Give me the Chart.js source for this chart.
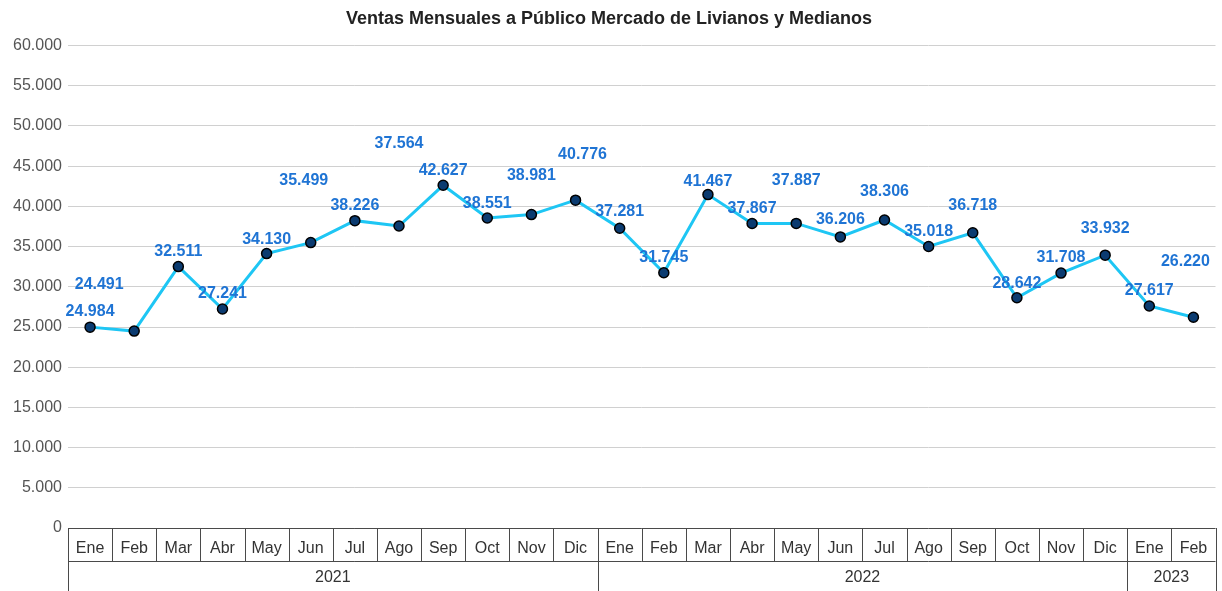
<!DOCTYPE html>
<html>
<head>
<meta charset="utf-8">
<script src="https://cdn.jsdelivr.net/npm/chart.js@4/dist/chart.umd.min.js"></script>
<style>
  html, body { margin: 0; padding: 0; background: #fff; }
  #wrap { width: 1222px; height: 591px; }
</style>
</head>
<body>
<div id="wrap"><canvas id="ventasChart"></canvas></div>
<script>
// Data
const meses = ['Ene','Feb','Mar','Abr','May','Jun','Jul','Ago','Sep','Oct','Nov','Dic',
               'Ene','Feb','Mar','Abr','May','Jun','Jul','Ago','Sep','Oct','Nov','Dic',
               'Ene','Feb'];
const anios = ['2021', '2022', '2023'];
const mesesPorAnio = [12, 12, 2];
const ventas = [24984, 24491, 32511, 27241, 34130, 35499, 38226, 37564, 42627, 38551, 38981, 40776,
                37281, 31745, 41467, 37867, 37887, 36206, 38306, 35018, 36718, 28642, 31708, 33932,
                27617, 26220];

// label placement (px offset from the point), like the original sheet
const labelDy = [-16, -46, -15, -15, -14, -62, -15, -82, -15, -14, -39, -46,
                 -17, -15, -13, -15, -43, -17, -28, -15, -27, -14, -15, -27,
                 -15, -56];
const labelDx = [0, -35, 0, 0, 0, -7, 0, 0, 0, 0, 0, 7,
                 0, 0, 0, 0, 0, 0, 0, 0, 0, 0, 0, 0,
                 0, -8];

const fmt = v => String(Math.round(v)).replace(/\B(?=(\d{3})+(?!\d))/g, '.');

const FONT = "'Liberation Sans', Arial, sans-serif";

// value labels above points
const valueLabels = {
  id: 'valueLabels',
  afterDatasetsDraw(chart) {
    const ctx = chart.ctx;
    const meta = chart.getDatasetMeta(0);
    ctx.save();
    ctx.font = 'bold 16px ' + FONT;
    ctx.fillStyle = '#1f74d4';
    ctx.textAlign = 'center';
    ctx.textBaseline = 'middle';
    meta.data.forEach((pt, i) => {
      ctx.fillText(fmt(ventas[i]), pt.x + labelDx[i], pt.y + labelDy[i]);
    });
    ctx.restore();
  }
};

// month / year table under the plot
const axisTable = {
  id: 'axisTable',
  afterDraw(chart) {
    const ctx = chart.ctx;
    const x = chart.scales.x;
    const area = chart.chartArea;
    const step = x.getPixelForValue(1) - x.getPixelForValue(0);
    const left = x.getPixelForValue(0) - step / 2;
    const right = x.getPixelForValue(meses.length - 1) + step / 2;
    const top = area.bottom;
    const mid = top + 33;
    const bottom = chart.height + 2;

    ctx.save();
    ctx.strokeStyle = '#4a4a4a';
    ctx.lineWidth = 1;
    ctx.beginPath();
    ctx.moveTo(left, top + 0.5); ctx.lineTo(right, top + 0.5);
    ctx.moveTo(left, mid + 0.5); ctx.lineTo(right, mid + 0.5);
    for (let i = 0; i <= meses.length; i++) {
      const px = Math.round(left + i * step) + 0.5;
      ctx.moveTo(px, top); ctx.lineTo(px, mid);
    }
    // year row
    let idx = 0;
    const bounds = [left];
    mesesPorAnio.forEach(n => { idx += n; bounds.push(left + idx * step); });
    bounds.forEach(b => {
      const px = Math.round(b) + 0.5;
      ctx.moveTo(px, mid); ctx.lineTo(px, bottom);
    });
    ctx.stroke();

    ctx.font = '16px ' + FONT;
    ctx.fillStyle = '#333';
    ctx.textAlign = 'center';
    ctx.textBaseline = 'middle';
    anios.forEach((a, i) => {
      ctx.fillText(a, (bounds[i] + bounds[i + 1]) / 2, mid + 17);
    });
    ctx.restore();
  }
};

const ctx = document.getElementById('ventasChart').getContext('2d');
new Chart(ctx, {
  type: 'line',
  data: {
    labels: meses,
    datasets: [{
      label: 'Ventas',
      data: ventas,
      borderColor: '#1ec6f4',
      borderWidth: 3,
      pointRadius: 5,
      pointHoverRadius: 5,
      pointBackgroundColor: '#0b3b70',
      pointBorderColor: '#000',
      pointBorderWidth: 1.5,
      tension: 0,
      fill: false
    }]
  },
  options: {
    responsive: true,
    maintainAspectRatio: false,
    animation: false,
    layout: { padding: { left: 0, right: 4, top: 0, bottom: 0 } },
    plugins: {
      legend: { display: false },
      tooltip: { enabled: false },
      title: {
        display: true,
        text: 'Ventas Mensuales a Público Mercado de Livianos y Medianos',
        color: '#222',
        font: { family: FONT, size: 18, weight: 'bold' },
        padding: { top: 8, bottom: 16 }
      }
    },
    scales: {
      x: {
        offset: true,
        grid: { display: false },
        border: { display: false },
        ticks: {
          color: '#333',
          font: { family: FONT, size: 16 },
          padding: 3,
          maxRotation: 0,
          autoSkip: false
        },
        afterFit(scale) { scale.height = 63; }
      },
      y: {
        min: 0,
        max: 60000,
        grid: { color: '#d0d0d0', lineWidth: 1, drawTicks: false },
        border: { display: false },
        ticks: {
          stepSize: 5000,
          color: '#555',
          font: { family: FONT, size: 16 },
          padding: 6,
          callback: v => fmt(v)
        },
        afterFit(scale) { scale.width = 68; }
      }
    }
  },
  plugins: [valueLabels, axisTable]
});
</script>
</body>
</html>
